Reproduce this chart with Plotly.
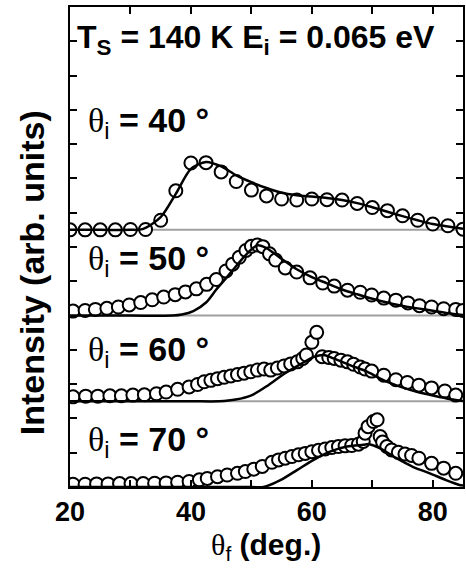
import plotly.graph_objects as go

# ---------------- data (relative intensities above each panel's baseline) ----------------
theta_i_labels = ["40", "50", "60", "70"]

# theta_i = 40
p40_x = [20, 22.5, 25, 27.5, 30, 32.5, 35, 37.5, 40, 42.5, 45, 47.5, 50, 52.5, 55, 57.5,
         60, 62.5, 65, 67.5, 70, 72.5, 75, 77.5, 80, 82.5, 85]
p40_y = [0, 0, 0, 0, 0.01, 0.01, 0.28, 1.14, 1.95, 1.96, 1.69, 1.41, 1.16, 0.99, 0.90, 0.87,
         0.90, 0.88, 0.87, 0.77, 0.65, 0.56, 0.41, 0.28, 0.17, 0.12, 0.02]
f40_x = [20, 25, 30, 32, 35, 37.5, 40, 42.5, 45, 47.5, 50, 52.5, 55, 57.5, 60, 62.5, 65,
         67.5, 70, 72.5, 75, 77.5, 80, 82.5, 85]
f40_y = [0, 0, 0, 0.02, 0.37, 1.05, 1.78, 1.98, 1.85, 1.59, 1.39, 1.22, 1.08, 1.01, 0.97,
         0.93, 0.87, 0.78, 0.66, 0.53, 0.40, 0.28, 0.17, 0.10, 0.03]

# theta_i = 50
p50_x = [20.5, 22.5, 24.2, 26.1, 28.0, 29.8, 31.7, 33.6, 35.5, 37.4, 39.1, 40.9, 42.6, 44.2,
         45.8, 46.9, 48.0, 49.1, 50.0, 51.0, 51.9, 53.0, 54.0, 55.6, 57.5, 59.7, 61.8, 63.7,
         65.9, 68.0, 69.9, 71.9, 73.9, 75.9, 77.8, 79.8, 81.8, 83.8, 85.0]
p50_y = [0.13, 0.15, 0.18, 0.21, 0.25, 0.31, 0.38, 0.46, 0.54, 0.61, 0.69, 0.78, 0.91, 1.05,
         1.30, 1.50, 1.70, 1.90, 2.02, 2.06, 2.01, 1.80, 1.62, 1.39, 1.27, 1.10, 0.95, 0.86,
         0.74, 0.68, 0.60, 0.51, 0.45, 0.37, 0.29, 0.25, 0.20, 0.18, 0.15]
f50_x = [20, 30, 37, 38.5, 40.4, 42.5, 44.2, 46.1, 47.7, 49.4, 51, 52.5, 55, 57.5, 60, 62.5,
         65, 67.5, 70, 72.5, 75, 77.5, 80, 82.5, 85]
f50_y = [0, 0, 0, 0.03, 0.13, 0.38, 0.76, 1.15, 1.49, 1.83, 2.05, 1.97, 1.65, 1.35, 1.12,
         0.94, 0.76, 0.62, 0.49, 0.38, 0.28, 0.21, 0.14, 0.07, 0.02]

# theta_i = 60
p60_x = [20.5, 22.6, 24.6, 26.6, 28.5, 30.4, 32.3, 34.3, 35.9, 37.8, 39.7, 41.1, 42.2, 43.3,
         44.4, 45.5, 46.6, 47.7, 48.8, 49.9, 51.0, 52.1, 53.2, 54.3, 55.4, 56.5, 57.6, 58.5,
         59.1, 60.0, 60.8, 61.7, 62.8, 63.7, 64.8, 65.9, 66.9, 68.0, 68.8, 69.9, 71.9, 73.9,
         75.8, 77.7, 79.8, 82.0, 83.8]
p60_y = [0.13, 0.15, 0.15, 0.16, 0.16, 0.18, 0.19, 0.22, 0.27, 0.35, 0.42, 0.49, 0.57, 0.61,
         0.66, 0.70, 0.74, 0.78, 0.82, 0.86, 0.91, 0.94, 0.91, 0.97, 1.03, 1.09, 1.15, 1.25,
         1.35, 1.72, 2.01, 1.30, 1.28, 1.25, 1.20, 1.15, 1.08, 1.00, 0.94, 0.88, 0.76, 0.63,
         0.55, 0.47, 0.39, 0.30, 0.18]
f60_x = [20, 30, 40, 44.7, 47.4, 50.1, 52.8, 55.5, 58.3, 60.4, 62.0, 63.6, 66.4, 69.2, 71.9,
         74.7, 77.5, 80.2, 83.0, 85]
f60_y = [0, 0, 0, 0, 0.05, 0.18, 0.47, 0.81, 1.10, 1.30, 1.35, 1.25, 1.05, 0.86, 0.61,
         0.42, 0.27, 0.16, 0.06, 0.01]

# theta_i = 70
p70_x = [20.5, 22.5, 24.4, 26.3, 28.2, 30.1, 32.1, 34.0, 35.9, 37.8, 39.7, 41.4, 42.7, 44.4,
         46.0, 47.7, 49.0, 50.4, 51.8, 53.4, 54.5, 55.6, 56.7, 57.8, 58.9, 60.0, 61.1, 62.2,
         63.3, 64.4, 65.5, 66.6, 67.7, 68.5, 68.8, 69.3, 70.2, 70.8, 71.3, 71.7, 72.4, 73.2,
         74.3, 75.4, 76.5, 77.7, 79.8, 81.8, 83.8]
p70_y = [0.08, 0.08, 0.09, 0.09, 0.10, 0.10, 0.10, 0.11, 0.12, 0.14, 0.16, 0.21, 0.25, 0.30,
         0.35, 0.40, 0.45, 0.52, 0.60, 0.72, 0.79, 0.84, 0.89, 0.94, 0.98, 1.03, 1.07, 1.11,
         1.15, 1.18, 1.20, 1.21, 1.25, 1.33, 1.57, 1.76, 1.91, 1.96, 1.47, 1.31, 1.18, 1.08,
         1.01, 0.96, 0.92, 0.84, 0.69, 0.55, 0.40]
f70_x = [20, 30, 40, 50, 52, 54.8, 57.6, 60.3, 63.0, 65.8, 68.5, 69.5, 71.3, 74.0, 76.7,
         79.5, 82.2, 84.4, 85]
f70_y = [0, 0, 0, 0, 0, 0.20, 0.50, 0.79, 1.03, 1.18, 1.23, 1.25, 1.13, 0.84, 0.59, 0.40,
         0.20, 0.06, 0.04]

x_tickvals = [20, 40, 60, 80]
x_ticktext = ["20", "40", "60", "80"]

# ---------------- layout constants ----------------
offsets = [7.5, 5.0, 2.5, 0.0]
label_y = [10.64, 6.61, 3.95, 1.32]
panels = [(p40_x, p40_y, f40_x, f40_y), (p50_x, p50_y, f50_x, f50_y),
          (p60_x, p60_y, f60_x, f60_y), (p70_x, p70_y, f70_x, f70_y)]

BOLD = "Liberation Sans"
fig = go.Figure()
for (px, py, fx, fy), off in zip(panels, offsets):
    fig.add_trace(go.Scatter(
        x=px, y=[v + off for v in py], mode="markers",
        marker=dict(symbol="circle", size=13, color="white",
                    line=dict(color="black", width=2)),
        showlegend=False, cliponaxis=True))
    fig.add_trace(go.Scatter(
        x=fx, y=[v + off for v in fy], mode="lines",
        line=dict(color="black", width=2.5, shape="spline", smoothing=0.8),
        showlegend=False))

for off in offsets[:3]:
    fig.add_shape(type="line", xref="paper", x0=0, x1=1, yref="y", y0=off, y1=off,
                  line=dict(color="#a0a0a0", width=2), layer="below")

theta_span = ('<span style="font-family:\'Liberation Serif\', \'DejaVu Serif\', serif;'
              'font-weight:normal">θ</span>')
for lab, ly in zip(theta_i_labels, label_y):
    fig.add_annotation(
        xref="paper", yref="y", x=(86 - 70) / 395, y=ly, xanchor="left", yanchor="middle",
        text=theta_span + '<sub>i</sub><b> = ' + lab + ' °</b>', showarrow=False,
        font=dict(family=BOLD, size=34, color="black"))

fig.add_annotation(
    xref="paper", yref="y", x=(75 - 70) / 395, y=13.05, xanchor="left", yanchor="middle",
    text="<b>T<sub>S</sub> = 140 K E<sub>i</sub> = 0.065 eV</b>", showarrow=False,
    font=dict(family=BOLD, size=32, color="black"))

fig.add_annotation(
    xref="paper", yref="paper", x=(32 - 70) / 395, y=(487 - 273) / 480,
    xanchor="center", yanchor="middle", textangle=-90,
    text="<b>Intensity (arb. units)</b>", showarrow=False,
    font=dict(family=BOLD, size=34, color="black"))

fig.add_annotation(
    xref="paper", yref="paper", x=(267 - 70) / 395, y=-(546 - 487) / 480,
    xanchor="center", yanchor="middle",
    text=theta_span + "<sub>f</sub><b> (deg.)</b>", showarrow=False,
    font=dict(family=BOLD, size=30, color="black"))

fig.update_layout(
    width=466, height=569,
    margin=dict(l=70, r=1, t=7, b=82),
    paper_bgcolor="white", plot_bgcolor="white",
    xaxis=dict(range=[20, 85], tickvals=x_tickvals, ticktext=x_ticktext,
               ticks="inside", ticklen=7, tickwidth=1.5, tickcolor="black",
               minor=dict(dtick=10, tick0=0, ticks="inside", ticklen=7, tickwidth=1.5,
                          tickcolor="black", showgrid=False),
               showline=True, linewidth=2, linecolor="black", mirror="ticks",
               showgrid=False, zeroline=False,
               tickfont=dict(family=BOLD, size=27, color="black", weight="bold")),
    yaxis=dict(range=[0, 14], dtick=1, tick0=0, showticklabels=False,
               ticks="inside", ticklen=7, tickwidth=1.5, tickcolor="black",
               showline=True, linewidth=2, linecolor="black", mirror="ticks",
               showgrid=False, zeroline=False),
)

fig.write_html("out.html", config={"displayModeBar": False},
               post_script="document.body.style.margin='0';document.body.style.overflow='hidden';")
